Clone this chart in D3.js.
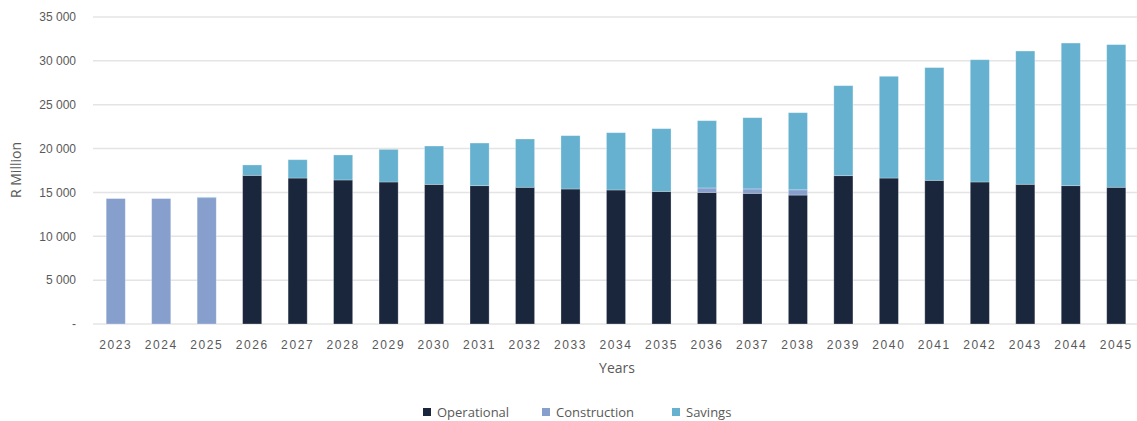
<!DOCTYPE html>
<html>
<head>
<meta charset="utf-8">
<script src="https://cdn.jsdelivr.net/npm/d3@7"></script>
<style>
body { margin: 0; background: #fff; }
svg { font-family: "Open Sans", Lato, sans-serif; }
.tick text { fill: #595959; }
</style>
</head>
<body>
<svg id="chart" width="1137" height="421"></svg>
<script>
// values (R Million)
var years = ["2023","2024","2025","2026","2027","2028","2029","2030","2031","2032","2033","2034",
             "2035","2036","2037","2038","2039","2040","2041","2042","2043","2044","2045"];
var operational = [0,0,0,16950,16640,16420,16190,15920,15770,15590,15390,15280,
                   15120,15010,14900,14700,16910,16640,16380,16190,15930,15770,15590];
var construction = [14300,14300,14400,0,0,0,0,0,0,0,0,0,
                    0,500,500,600,0,0,0,0,0,0,0];
var savings = [0,0,80,1180,2090,2850,3720,4370,4860,5500,6080,6530,
               7150,7670,8120,8790,10260,11600,12850,13940,15190,16260,16260];
var yTicks = [0,5000,10000,15000,20000,25000,30000,35000];

var keys = ["Operational","Construction","Savings"];
var colors = ["#1a263c","#869fcc","#65b1cf"];

var rows = years.map(function(y,i){
    return {year: y, Operational: operational[i], Construction: construction[i], Savings: savings[i]};
});

var svg = d3.select("#chart");
var margin = {top: 17, left: 93, bottom: 97};
var plotRight = 1139;
var plotBottom = 421 - margin.bottom;

var xscale = d3.scaleBand()
    .domain(years)
    .range([margin.left, plotRight])
    .paddingInner(0.58)
    .paddingOuter(0.29);
var yscale = d3.scaleLinear()
    .domain([0, 35000])
    .range([plotBottom, margin.top]);
var color = d3.scaleOrdinal().domain(keys).range(colors);

// gridlines
svg.append("g")
    .selectAll("line")
    .data(yTicks)
    .enter().append("line")
    .attr("x1", margin.left)
    .attr("x2", plotRight)
    .attr("y1", function(d){ return yscale(d); })
    .attr("y2", function(d){ return yscale(d); })
    .attr("stroke", "#e4e4e4")
    .attr("stroke-width", 1.5);

// y axis labels
var fmt = function(d){ return d === 0 ? "-" : d3.format(",")(d).replace(/,/g, " "); };
var yAxis = svg.append("g")
    .attr("transform", "translate(" + 84 + ",0)")
    .call(d3.axisLeft(yscale).tickValues(yTicks).tickFormat(fmt).tickSize(0).tickPadding(8));
yAxis.select(".domain").remove();
yAxis.selectAll("text").attr("font-size", 12).attr("fill", "#666");

// stacked bars
var stacked = d3.stack().keys(keys)(rows);
svg.append("g")
    .selectAll("g")
    .data(stacked)
    .enter().append("g")
    .attr("fill", function(d){ return color(d.key); })
    .selectAll("rect")
    .data(function(d){ return d.filter(function(p){ return p[1] - p[0] > 0; }); })
    .enter().append("rect")
    .attr("x", function(d){ return xscale(d.data.year); })
    .attr("y", function(d){ return yscale(d[1]); })
    .attr("height", function(d){ return yscale(d[0]) - yscale(d[1]); })
    .attr("width", xscale.bandwidth())
    .attr("stroke", "rgba(255,255,255,0.35)")
    .attr("stroke-width", 0.8);

// x axis labels
var xAxis = svg.append("g")
    .attr("transform", "translate(0," + plotBottom + ")")
    .call(d3.axisBottom(xscale).tickSize(0).tickPadding(16));
xAxis.select(".domain").remove();
xAxis.selectAll("text").attr("font-size", 12).attr("fill", "#666").attr("letter-spacing", "1.6px");

// axis titles
svg.append("text")
    .attr("x", 617).attr("y", 373)
    .attr("text-anchor", "middle")
    .attr("font-size", 14).attr("fill", "#595959")
    .text("Years");
svg.append("text")
    .attr("transform", "translate(21,170) rotate(-90)")
    .attr("text-anchor", "middle")
    .attr("font-size", 14).attr("fill", "#595959")
    .text("R Million");

// legend
var legendX = [423, 542, 672];
var legend = svg.append("g")
    .selectAll("g")
    .data(keys)
    .enter().append("g")
    .attr("transform", function(d,i){ return "translate(" + legendX[i] + ",412)"; });
legend.append("rect")
    .attr("x", 0).attr("y", -4)
    .attr("width", 8).attr("height", 8)
    .attr("fill", color);
legend.append("text")
    .attr("x", 14).attr("y", 0)
    .attr("dy", "0.35em")
    .attr("font-size", 13).attr("fill", "#595959")
    .text(function(d){ return d; });
</script>
</body>
</html>
